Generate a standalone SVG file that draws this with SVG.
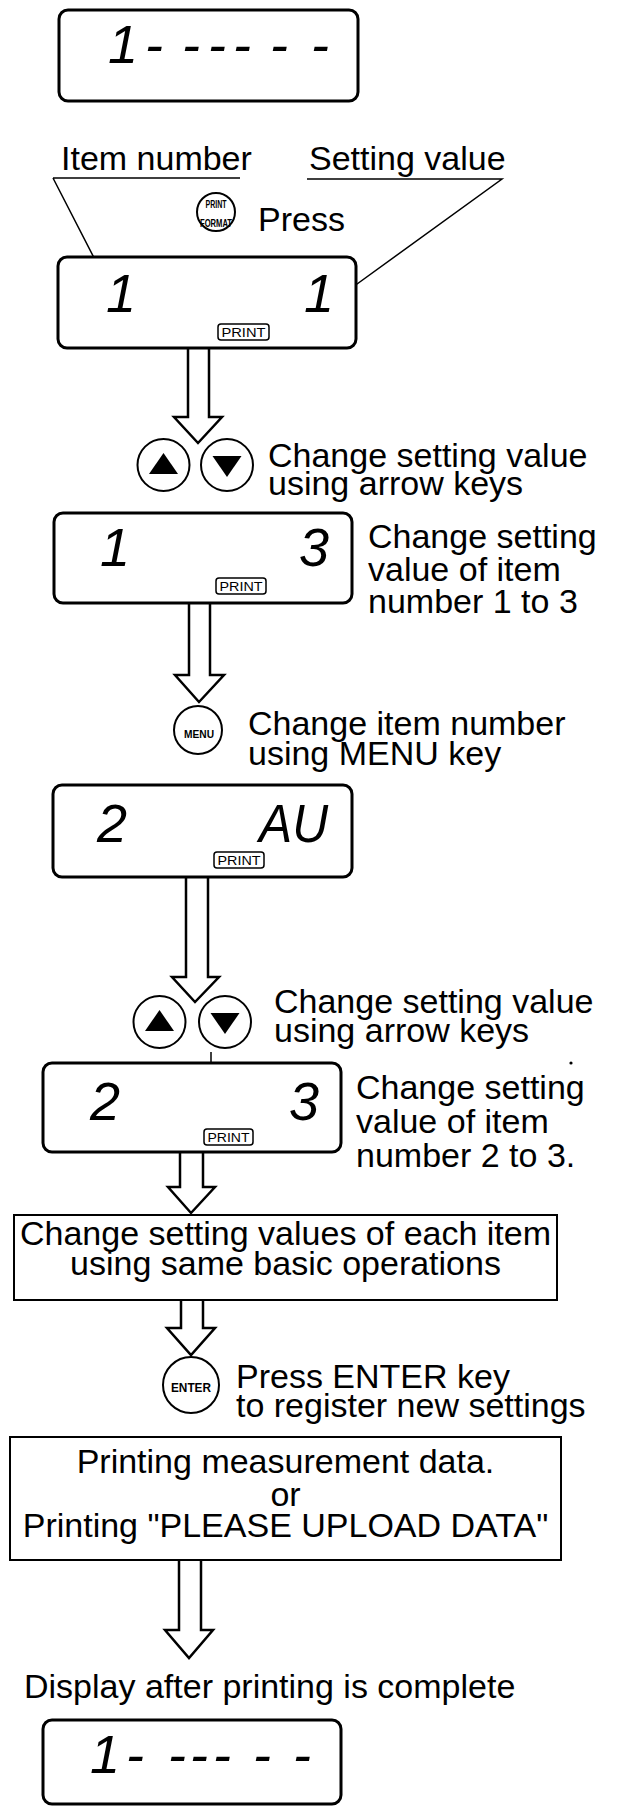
<svg xmlns="http://www.w3.org/2000/svg" width="619" height="1809" viewBox="0 0 619 1809">
<style>
.bg{fill:#fff}
.lbl{font-family:"Liberation Sans",Arial,sans-serif;font-size:34px;fill:#000}
.mid{text-anchor:middle}
.lcd{font-family:"Liberation Sans",Arial,sans-serif;font-size:54px;font-style:italic;fill:#000}
.disp{fill:#fff;stroke:#000;stroke-width:3}
.box{fill:#fff;stroke:#000;stroke-width:2}
.key{fill:#fff;stroke:#000;stroke-width:2}
.keyt{font-family:"Liberation Sans",Arial,sans-serif;font-weight:bold;fill:#000;text-anchor:middle}
.tag{fill:#fff;stroke:#000;stroke-width:1.5}
.tagt{font-family:"Liberation Sans",Arial,sans-serif;font-size:13px;fill:#000;text-anchor:middle}
.arrow{fill:#fff;stroke:#000;stroke-width:2.5;stroke-linejoin:miter}
.lead{fill:none;stroke:#000;stroke-width:1.5}
.tri{fill:#000}
</style>
<rect class="bg" x="0" y="0" width="619" height="1809"/>

<g id="connectors">
  <path class="lead" d="M53,178 H240 M53,178 L108,285"/>
  <path class="lead" d="M307,179 H502 L346,292"/>
  <path class="arrow" d="M188,348 V417 H174 L198,443 L222,417 H209 V348"/>
  <path class="arrow" d="M189,603 V675 H175 L199,702 L224,675 H210 V603"/>
  <path class="arrow" d="M186,877 V977 H172 L195,1002 L219,977 H208 V877"/>
  <path class="arrow" d="M180,1152 V1187 H168 L191,1213 L215,1187 H203 V1152"/>
  <path class="arrow" d="M181,1300 V1328 H167 L191,1355 L215,1328 H203 V1300"/>
  <path class="arrow" d="M179,1560 V1630 H165 L189,1658 L213,1630 H201 V1560"/>
</g>

<g id="display-initial">
  <rect class="disp" x="59" y="10" width="299" height="91" rx="9"/>
  <text class="lcd" x="108 145 182 208 233 270 311" y="63">1------</text>
</g>

<g id="label-item-number">
  <text class="lbl" x="61" y="170">Item number</text>
</g>
<g id="label-setting-value">
  <text class="lbl" x="309" y="170">Setting value</text>
</g>

<g id="key-print-format">
  <circle class="key" cx="216" cy="212" r="19"/>
  <text class="keyt" x="216" y="208" font-size="10" textLength="21" lengthAdjust="spacingAndGlyphs">PRINT</text>
  <text class="keyt" x="216" y="227" font-size="10" textLength="32" lengthAdjust="spacingAndGlyphs">FORMAT</text>
  <text class="lbl" x="258" y="231">Press</text>
</g>

<g id="display-1-1">
  <rect class="disp" x="58" y="257" width="298" height="91" rx="9"/>
  <text class="lcd" x="106" y="312">1</text>
  <text class="lcd" x="304" y="312">1</text>
  <rect class="tag" x="218" y="324" width="51" height="16" rx="3"/>
  <text class="tagt" x="243.5" y="337" textLength="44" lengthAdjust="spacingAndGlyphs">PRINT</text>
</g>

<g id="keys-arrows-1">
  <circle class="key" cx="163.5" cy="465" r="26"/>
  <polygon class="tri" points="163.5,453 178,474 149,474"/>
  <circle class="key" cx="227" cy="465" r="26"/>
  <polygon class="tri" points="212.5,456 241.5,456 227,477"/>
  <text class="lbl" x="268" y="467">Change setting value<tspan x="268" dy="28">using arrow keys</tspan></text>
</g>

<g id="display-1-3">
  <rect class="disp" x="54" y="513" width="298" height="90" rx="9"/>
  <text class="lcd" x="100" y="566">1</text>
  <text class="lcd" x="299" y="566">3</text>
  <rect class="tag" x="216" y="578" width="50" height="16" rx="3"/>
  <text class="tagt" x="241" y="591" textLength="43" lengthAdjust="spacingAndGlyphs">PRINT</text>
  <text class="lbl" x="368" y="548">Change setting<tspan x="368" dy="33">value of item</tspan><tspan x="368" dy="32">number 1 to 3</tspan></text>
</g>

<g id="key-menu">
  <circle class="key" cx="198" cy="730" r="24"/>
  <text class="keyt" x="199" y="738" font-size="10" textLength="30" lengthAdjust="spacingAndGlyphs">MENU</text>
  <text class="lbl" x="248" y="735">Change item number<tspan x="248" dy="30">using MENU key</tspan></text>
</g>

<g id="display-2-au">
  <rect class="disp" x="53" y="785" width="299" height="92" rx="9"/>
  <text class="lcd" x="97" y="842">2</text>
  <text class="lcd" x="259" y="842" textLength="69" lengthAdjust="spacingAndGlyphs">AU</text>
  <rect class="tag" x="214" y="852" width="50" height="16" rx="3"/>
  <text class="tagt" x="239" y="865" textLength="43" lengthAdjust="spacingAndGlyphs">PRINT</text>
</g>

<g id="keys-arrows-2">
  <circle class="key" cx="159.5" cy="1022" r="26"/>
  <polygon class="tri" points="159.5,1010 174,1031 145,1031"/>
  <circle class="key" cx="225" cy="1022" r="26"/>
  <polygon class="tri" points="210.5,1013 239.5,1013 225,1034"/>
  <text class="lbl" x="274" y="1013">Change setting value<tspan x="274" dy="29">using arrow keys</tspan></text>
  <path class="lead" d="M211,1052 V1062"/>
  <circle cx="571" cy="1063" r="1.6" fill="#000"/>
</g>

<g id="display-2-3">
  <rect class="disp" x="43" y="1063" width="298" height="89" rx="9"/>
  <text class="lcd" x="90" y="1120">2</text>
  <text class="lcd" x="289" y="1120">3</text>
  <rect class="tag" x="204" y="1129" width="49" height="16" rx="3"/>
  <text class="tagt" x="228.5" y="1142" textLength="42" lengthAdjust="spacingAndGlyphs">PRINT</text>
  <text class="lbl" x="356" y="1099">Change setting<tspan x="356" dy="34">value of item</tspan><tspan x="356" dy="34">number 2 to 3.</tspan></text>
</g>

<g id="box-change-all">
  <rect class="box" x="14" y="1215" width="543" height="85"/>
  <text class="lbl mid" x="285.5" y="1245">Change setting values of each item<tspan x="285.5" dy="30">using same basic operations</tspan></text>
</g>

<g id="key-enter">
  <circle class="key" cx="191" cy="1385" r="28"/>
  <text class="keyt" x="191" y="1392" font-size="13" textLength="40" lengthAdjust="spacingAndGlyphs">ENTER</text>
  <text class="lbl" x="236" y="1388">Press ENTER key<tspan x="236" dy="29">to register new settings</tspan></text>
</g>

<g id="box-printing">
  <rect class="box" x="10" y="1437" width="551" height="123"/>
  <text class="lbl mid" x="285.5" y="1473">Printing measurement data.<tspan x="285.5" dy="33">or</tspan><tspan x="285.5" dy="31">Printing "PLEASE UPLOAD DATA"</tspan></text>
</g>

<g id="label-display-after">
  <text class="lbl" x="24" y="1698">Display after printing is complete</text>
</g>

<g id="display-final">
  <rect class="disp" x="43" y="1720" width="298" height="84" rx="9"/>
  <text class="lcd" x="90 126 168 190 213 253 293" y="1773">1------</text>
</g>
</svg>
